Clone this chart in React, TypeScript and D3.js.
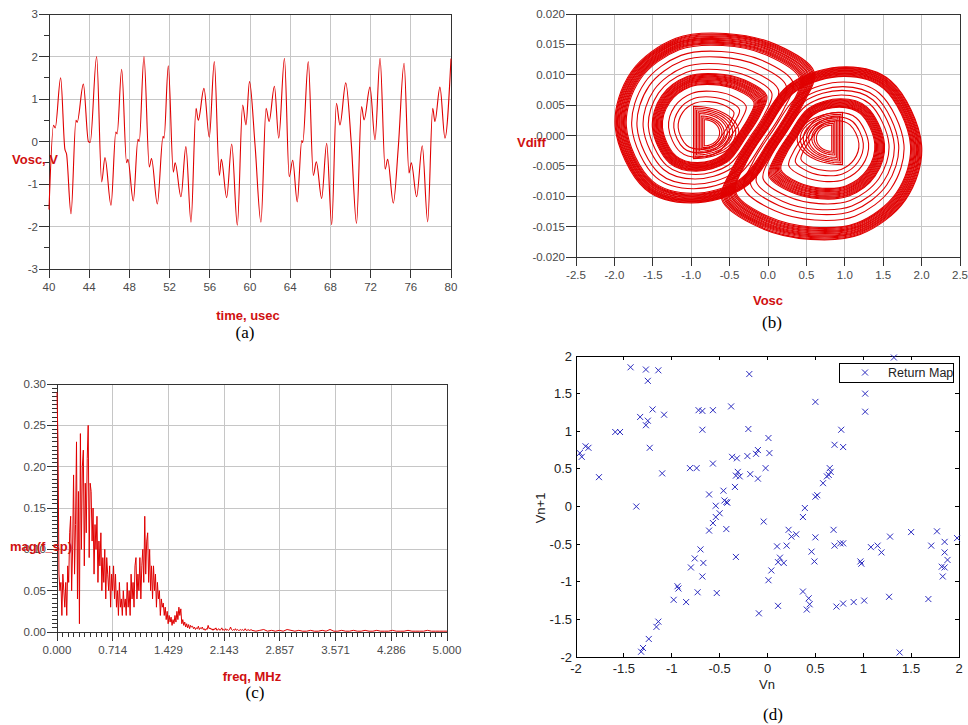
import React from "react";
import * as d3 from "d3";

// ---------- (a) Vosc vs time: turning points ----------
const timeUs = [40.0, 40.45, 40.62, 41.16, 41.58, 41.75, 42.19, 42.68, 42.8, 43.42, 43.92, 44.1, 44.74, 45.24, 45.57, 46.17, 46.65, 46.78, 47.23, 47.72, 47.85, 48.39, 48.85, 48.98, 49.45, 49.98, 50.2, 50.78, 51.35, 51.45, 51.87, 52.37, 52.55, 53.13, 53.62, 54.13, 54.63, 54.85, 55.42, 55.95, 56.45, 56.95, 57.15, 57.68, 58.18, 58.74, 59.27, 59.6, 59.95, 60.5, 61.09, 61.6, 61.9, 62.43, 62.86, 63.43, 63.9, 64.25, 64.7, 65.15, 65.25, 65.8, 66.3, 66.6, 67.13, 67.63, 68.13, 68.6, 68.95, 69.53, 70.08, 70.6, 71.1, 71.35, 71.94, 72.44, 72.94, 73.45, 73.7, 74.26, 74.76, 75.33, 75.82, 76.05, 76.58, 77.14, 77.68, 78.18, 78.4, 78.9, 79.4, 80.0];
const voscV = [-1.6, 0.38, 0.32, 1.5, -0.18, -0.3, -1.7, 0.5, 0.45, 1.35, 0.0, -0.02, 2.0, -0.95, -0.38, -1.5, 0.22, 0.18, 1.7, -0.5, -0.42, -1.4, 0.05, 0.0, 2.0, -0.6, -0.4, -1.47, 0.12, 0.08, 1.78, -0.72, -0.5, -1.3, -0.12, -1.9, 0.78, 0.5, 1.25, 0.1, 1.88, -0.8, -0.42, -1.32, -0.06, -1.97, 0.86, 0.39, 1.41, -0.08, -1.9, 0.78, 0.47, 1.3, 0.08, 1.96, -0.83, -0.44, -1.42, 0.02, -0.02, 1.88, -0.8, -0.48, -1.34, -0.04, -1.96, 0.9, 0.39, 1.38, -0.05, -1.93, 0.82, 0.51, 1.28, 0.04, 1.96, -0.65, -0.42, -1.45, -0.12, 1.84, -0.74, -0.5, -1.3, -0.1, -1.89, 0.78, 0.47, 1.28, 0.08, 1.95];
const timeTicks = [40, 44, 48, 52, 56, 60, 64, 68, 72, 76, 80];
const voltTicks = [-3, -2, -1, 0, 1, 2, 3];
const voltMinor = [-2.5, -1.5, -0.5, 0.5, 1.5, 2.5];

// ---------- (b) Vdiff vs Vosc ----------
// outermost loop of each scroll, read off the picture, and the loop eye
const leftOutline = [
  [-1.99, 0.0015], [-1.78, 0.0105], [-1.2, 0.016], [-0.55, 0.0168], [0.1, 0.015], [0.6, 0.0105],
  [0.45, 0.005], [0.15, -0.001], [-0.3, -0.0085], [-1.0, -0.0111], [-1.6, -0.0088],
];
const leftEye = [-0.85, 0.0012];
const rightOutline = [
  [2.0, -0.0016], [1.79, -0.0106], [1.2, -0.0163], [0.55, -0.0171], [-0.1, -0.0152], [-0.6, -0.0106],
  [-0.45, -0.005], [-0.15, 0.001], [0.3, 0.0086], [1.02, 0.0113], [1.6, 0.009],
];
const rightEye = [0.85, -0.0012];
// size of every loop relative to the outermost one
const leftLoops = [
  1, 0.99, 0.982, 0.972, 0.963, 0.952, 0.944, 0.933, 0.924, 0.913, 0.903, 0.894, 0.884, 0.872,
  0.81, 0.75, 0.68, 0.62,
  0.575, 0.566, 0.556, 0.547, 0.537, 0.528, 0.518, 0.509, 0.5, 0.49, 0.48, 0.47, 0.46,
  0.39, 0.33, 0.28,
];
const rightLoops = [
  1, 0.991, 0.98, 0.971, 0.962, 0.953, 0.942, 0.934, 0.923, 0.914, 0.904, 0.893, 0.883, 0.874,
  0.8, 0.74, 0.69, 0.63,
  0.58, 0.57, 0.56, 0.55, 0.54, 0.53, 0.52, 0.51, 0.5, 0.49, 0.48, 0.47,
  0.4, 0.34, 0.29,
];
// inner "D" loops [xFlat, xTip, yTop, yBottom]
const leftDs = [
  [-0.97, -0.38, 0.0048, -0.0038], [-0.95, -0.42, 0.0045, -0.0035], [-0.93, -0.46, 0.0042, -0.0032],
  [-0.91, -0.5, 0.0039, -0.0029], [-0.89, -0.53, 0.0036, -0.0026], [-0.87, -0.57, 0.0032, -0.0023],
  [-0.85, -0.6, 0.0029, -0.002], [-0.83, -0.63, 0.0026, -0.0017],
];
const rightDs = [
  [0.97, 0.38, 0.0038, -0.0048], [0.95, 0.42, 0.0035, -0.0045], [0.93, 0.46, 0.0032, -0.0042],
  [0.91, 0.5, 0.0029, -0.0039], [0.89, 0.53, 0.0026, -0.0036], [0.87, 0.57, 0.0023, -0.0032],
  [0.85, 0.6, 0.002, -0.0029], [0.83, 0.63, 0.0017, -0.0026],
];
const voscTicks = [-2.5, -2.0, -1.5, -1.0, -0.5, 0.0, 0.5, 1.0, 1.5, 2.0, 2.5];
const vdiffTicks = [-0.02, -0.015, -0.01, -0.005, 0, 0.005, 0.01, 0.015, 0.02];

// ---------- (c) spectrum magnitude ----------
const specStep = 0.0125; // MHz per bin up to 2.5 MHz
const specLow = [
  0.29, 0.23, 0.07, 0.05, 0.06, 0.02, 0.07, 0.05, 0.03, 0.06,
  0.02, 0.08, 0.06, 0.12, 0.14, 0.05, 0.10, 0.19, 0.07, 0.13,
  0.23, 0.04, 0.17, 0.01, 0.24, 0.10, 0.20, 0.22, 0.08, 0.18,
  0.12, 0.21, 0.25, 0.09, 0.18, 0.17, 0.11, 0.15, 0.07, 0.13,
  0.10, 0.14, 0.06, 0.11, 0.08, 0.12, 0.05, 0.09, 0.06, 0.10,
  0.04, 0.09, 0.07, 0.05, 0.08, 0.03, 0.07, 0.05, 0.08, 0.04,
  0.07, 0.03, 0.05, 0.02, 0.06, 0.03, 0.04, 0.02, 0.05, 0.03,
  0.04, 0.02, 0.06, 0.03, 0.05, 0.02, 0.07, 0.04, 0.06, 0.03,
  0.08, 0.09, 0.04, 0.07, 0.05, 0.09, 0.04, 0.08, 0.10, 0.06,
  0.14, 0.07, 0.11, 0.12, 0.06, 0.10, 0.05, 0.08, 0.04, 0.08,
  0.05, 0.07, 0.03, 0.06, 0.04, 0.05, 0.02, 0.04, 0.03, 0.035,
  0.02, 0.03, 0.015, 0.025, 0.01, 0.02, 0.012, 0.018, 0.008, 0.015,
  0.01, 0.02, 0.012, 0.025, 0.015, 0.03, 0.02, 0.028, 0.01, 0.015,
  0.008, 0.012, 0.006, 0.01, 0.005, 0.009, 0.004, 0.008, 0.006, 0.007,
  0.004, 0.006, 0.003, 0.005, 0.004, 0.007, 0.003, 0.005, 0.004, 0.006,
  0.003, 0.004, 0.002, 0.004, 0.003, 0.008, 0.004, 0.005, 0.003, 0.004,
  0.002, 0.004, 0.003, 0.005, 0.002, 0.003, 0.004, 0.002, 0.003, 0.005,
  0.002, 0.003, 0.002, 0.004, 0.002, 0.003, 0.002, 0.003, 0.006, 0.003,
  0.002, 0.003, 0.002, 0.004, 0.002, 0.003, 0.002, 0.002, 0.003, 0.002,
  0.003, 0.002, 0.002, 0.004, 0.002, 0.002, 0.003, 0.002, 0.002, 0.003,
];
const tailStep = 0.05; // MHz per point from 2.5 to 5.0
const specTail = [
  0.002, 0.001, 0.002, 0.003, 0.001, 0.002, 0.001, 0.002, 0.001, 0.003,
  0.002, 0.001, 0.002, 0.001, 0.001, 0.002, 0.001, 0.001, 0.002, 0.001,
  0.003, 0.001, 0.001, 0.002, 0.001, 0.001, 0.002, 0.001, 0.001, 0.002,
  0.001, 0.001, 0.002, 0.001, 0.001, 0.001, 0.002, 0.001, 0.001, 0.001,
  0.002, 0.001, 0.001, 0.001, 0.001, 0.002, 0.001, 0.001, 0.001, 0.001, 0.001,
];
const freqTicks = [0, 5 / 7, 10 / 7, 15 / 7, 20 / 7, 25 / 7, 30 / 7, 5];
const magTicks = [0, 0.05, 0.1, 0.15, 0.2, 0.25, 0.3];

// ---------- (d) return map ----------
const vn = [
  -1.43, -1.27, -1.14, -1.25, -1.2, -1.33, -1.25, -1.27, -1.08, -1.59, -1.54, -1.9, -1.87, -1.94, -1.96, -1.76, -1.23, -1.1, -1.37,
  -0.72, -0.68, -0.57, -0.68, -0.81, -0.74, -0.57, -0.61, -0.46, -0.54, -0.43, -0.5, -0.54, -0.57, -0.61, -0.43,
  -0.7, -0.76, -0.67, -0.8, -0.68, -0.93, -0.94, -0.98, -0.85, -0.73, -0.53, -1.14, -1.16, -1.24, -1.3, -1.32,
  -0.19, -0.38, 0.5, 1.02, 1.02, 1.32, -0.2, 0.01, -0.37, -0.32, -0.21, -0.12, -0.1, 0.02, -0.02, -0.31, -0.29, -0.33,
  -0.18, -0.1, -0.34, -0.45, -0.42, -0.04, 0.77, 0.7, 0.79, 0.65, 0.66, 0.64, 0.62, 0.58, 0.5, 0.52, 0.39, 0.37,
  0.22, 0.25, 0.3, 0.5, 0.69, 1.28, 1.5, 1.77, 1.98,
  0.1, 0.2, 0.46, 0.49, 0.13, 0.11, 0.17, 0.04, 0.01, -0.33, -0.09, 0.11, 0.37, 0.43, 0.44, 0.41, 0.7, 0.76, 0.79,
  0.72, 0.79, 0.9, 1.01, 0.97, 0.98, 1.08, 1.15, 1.19, 1.27, 1.38, 1.71, 1.85, 1.85, 1.88, 1.82, 1.85, 1.83, 1.68,
];
const vnNext = [
  1.85, 1.82, 1.81, 1.67, 1.29, 1.19, 1.14, 1.08, 1.22, 0.99, 0.99, 0.8, 0.78, 0.66, 0.71, 0.39, 0.78, 0.44, 0.0,
  1.28, 1.27, 1.28, 1.02, 0.51, 0.51, 0.57, 0.16, 0.21, 0.01, 0.06, -0.09, -0.14, -0.22, -0.32, -0.3,
  -0.57, -0.69, -0.75, -0.81, -0.93, -1.09, -1.06, -1.24, -1.27, -1.14, -1.15, -1.53, -1.6, -1.76, -1.88, -1.93,
  1.76, 1.33, 1.39, 1.5, 1.26, 1.98, 1.03, 0.91, 0.66, 0.64, 0.67, 0.7, 0.75, 0.71, 0.51, 0.46, 0.4, 0.41,
  0.43, 0.37, 0.26, 0.08, 0.05, -0.2, 1.02, 0.82, 0.79, 0.51, 0.46, 0.42, 0.4, 0.31, 0.13, 0.15, -0.02, -0.14,
  -0.31, -0.4, -0.37, -0.41, -0.31, -0.4, -0.34, -0.33, -0.42,
  -0.53, -0.52, -0.6, -0.73, -0.68, -0.74, -0.75, -0.85, -0.98, -0.67, -1.42, -1.32, -1.13, -1.22, -1.3, -1.37, -0.52, -0.49, -0.49,
  -1.33, -1.29, -1.27, -1.25, -0.73, -0.76, -0.54, -0.52, -0.61, -1.2, -1.94, -0.52, -0.47, -0.61, -0.71, -0.8, -0.81, -0.93, -1.23,
];
const mapTicks = [-2, -1.5, -1, -0.5, 0, 0.5, 1, 1.5, 2];

const sans = "'Liberation Sans', Arial, sans-serif";
const serif = "'Liberation Serif', 'Times New Roman', serif";
const red = "#e00000";
const labelRed = "#d01010";

function AdsFrame({xs, ys, xTicks, yTicks, xMinor = [], yMinor = [], xFmt, yFmt}: any) {
  const [l, r] = xs.range();
  const [b, t] = ys.range();
  return (
    <g>
      <g stroke="#c6c6c6" shapeRendering="crispEdges">
        {xTicks.map((v: number, i: number) => <line key={"gx" + i} x1={xs(v)} x2={xs(v)} y1={t} y2={b}/>)}
        {yTicks.map((v: number, i: number) => <line key={"gy" + i} x1={l} x2={r} y1={ys(v)} y2={ys(v)}/>)}
      </g>
      <g stroke="#333" shapeRendering="crispEdges">
        <rect x={l} y={t} width={r - l} height={b - t} fill="none"/>
        {xTicks.map((v: number, i: number) => <line key={"tx" + i} x1={xs(v)} x2={xs(v)} y1={b} y2={b + 9}/>)}
        {xMinor.map((v: number, i: number) => <line key={"mx" + i} x1={xs(v)} x2={xs(v)} y1={b} y2={b + 5}/>)}
        {yTicks.map((v: number, i: number) => <line key={"ty" + i} x1={l - 10} x2={l} y1={ys(v)} y2={ys(v)}/>)}
        {yMinor.map((v: number, i: number) => <line key={"my" + i} x1={l - 5} x2={l} y1={ys(v)} y2={ys(v)}/>)}
      </g>
      <g fontFamily={sans} fontSize={11.5} fill="#4a4a4a">
        {xTicks.map((v: number, i: number) => (
          <text key={"lx" + i} x={xs(v)} y={b + 22} textAnchor="middle">{xFmt(v)}</text>
        ))}
        {yTicks.map((v: number, i: number) => (
          <text key={"ly" + i} x={l - 11} y={ys(v)} dy="0.35em" textAnchor="end">{yFmt(v)}</text>
        ))}
      </g>
    </g>
  );
}

function PanelA() {
  const xs = d3.scaleLinear().domain([40, 80]).range([49, 451]);
  const ys = d3.scaleLinear().domain([-3, 3]).range([269, 14]);
  const line = d3.line<number>().x((d, i) => xs(timeUs[i])).y(d => ys(d)).curve(d3.curveMonotoneX);
  return (
    <g>
      <AdsFrame xs={xs} ys={ys} xTicks={timeTicks} yTicks={voltTicks} yMinor={voltMinor}
        xFmt={(v: number) => String(v)} yFmt={(v: number) => String(v)}/>
      <path d={line(voscV) || ""} fill="none" stroke={red} strokeWidth={1.1}/>
      <g fontFamily={sans} fontWeight="bold" fontSize={13} fill={labelRed}>
        <text x={12} y={164}>Vosc, V</text>
        <text x={248} y={320} textAnchor="middle">time, usec</text>
      </g>
      <text x={245} y={338} fontFamily={serif} fontSize={17} textAnchor="middle">(a)</text>
    </g>
  );
}

function PanelB() {
  const xs = d3.scaleLinear().domain([-2.5, 2.5]).range([576, 960]);
  const ys = d3.scaleLinear().domain([-0.02, 0.02]).range([257, 14]);
  const loop = d3.line().curve(d3.curveCatmullRomClosed.alpha(0.5));
  const scaled = (outline: number[][], eye: number[], s: number) =>
    loop(outline.map(([x, y]) => [xs(eye[0] + s * (x - eye[0])), ys(eye[1] + s * (y - eye[1]))] as [number, number])) || "";
  const dLoop = (r: number[]) => {
    const [xF, xT, yT, yB] = r;
    const cy = (yT + yB) / 2, ry = (yT - yB) / 2;
    const pts = d3.range(0, 37).map(k => {
      const a = -Math.PI / 2 + (k / 36) * Math.PI;
      return [xs(xF + (xT - xF) * Math.cos(a)), ys(cy - ry * Math.sin(a))] as [number, number];
    });
    return d3.line().curve(d3.curveLinearClosed)(pts) || "";
  };
  return (
    <g>
      <AdsFrame xs={xs} ys={ys} xTicks={voscTicks} yTicks={vdiffTicks}
        xFmt={(v: number) => v.toFixed(1)} yFmt={(v: number) => v.toFixed(3)}/>
      <g fill="none" stroke={red} strokeWidth={1.1}>
        {leftLoops.map((s, i) => <path key={"l" + i} d={scaled(leftOutline, leftEye, s)}/>)}
        {rightLoops.map((s, i) => <path key={"r" + i} d={scaled(rightOutline, rightEye, s)}/>)}
        {leftDs.map((r, i) => <path key={"ld" + i} d={dLoop(r)}/>)}
        {rightDs.map((r, i) => <path key={"rd" + i} d={dLoop(r)}/>)}
      </g>
      <g fontFamily={sans} fontWeight="bold" fontSize={13} fill={labelRed}>
        <text x={517} y={147}>Vdiff</text>
        <text x={768} y={305} textAnchor="middle">Vosc</text>
      </g>
      <text x={772} y={328} fontFamily={serif} fontSize={17} textAnchor="middle">(b)</text>
    </g>
  );
}

function PanelC() {
  const xs = d3.scaleLinear().domain([0, 5]).range([57, 447]);
  const ys = d3.scaleLinear().domain([0, 0.3]).range([632, 384]);
  const pts: [number, number][] = [
    ...specLow.map((m, i) => [i * specStep, m] as [number, number]),
    ...specTail.map((m, i) => [2.5 + i * tailStep, m] as [number, number]),
  ];
  const line = d3.line<[number, number]>().x(d => xs(d[0])).y(d => ys(d[1]));
  const xMinor = d3.range(0, 71).filter(k => k % 10 !== 0).map(k => k / 14);
  const yMinor = d3.range(0, 61).filter(k => k % 10 !== 0).map(k => k / 200);
  return (
    <g>
      <AdsFrame xs={xs} ys={ys} xTicks={freqTicks} yTicks={magTicks} xMinor={xMinor} yMinor={yMinor}
        xFmt={(v: number) => v.toFixed(3)} yFmt={(v: number) => v.toFixed(2)}/>
      <path d={line(pts) || ""} fill="none" stroke={red} strokeWidth={1}/>
      <g fontFamily={sans} fontWeight="bold" fontSize={13} fill={labelRed}>
        <text x={10} y={551}>mag(f_sp)</text>
        <text x={252} y={681} textAnchor="middle">freq, MHz</text>
      </g>
      <text x={255} y={698} fontFamily={serif} fontSize={17} textAnchor="middle">(c)</text>
    </g>
  );
}

function PanelD() {
  const xs = d3.scaleLinear().domain([-2, 2]).range([576, 959]);
  const ys = d3.scaleLinear().domain([-2, 2]).range([657, 356]);
  const cross = (x: number, y: number, s = 3) =>
    `M${x - s},${y - s}L${x + s},${y + s}M${x - s},${y + s}L${x + s},${y - s}`;
  const blue = "#2c2cc0";
  return (
    <g>
      <g stroke="#000" shapeRendering="crispEdges" fill="none">
        <rect x={576} y={356} width={959 - 576} height={657 - 356}/>
        {mapTicks.map((v, i) => (
          <g key={"t" + i}>
            <line x1={xs(v)} x2={xs(v)} y1={657} y2={653}/>
            <line x1={xs(v)} x2={xs(v)} y1={356} y2={360}/>
            <line x1={576} x2={580} y1={ys(v)} y2={ys(v)}/>
            <line x1={959} x2={955} y1={ys(v)} y2={ys(v)}/>
          </g>
        ))}
      </g>
      <g fontFamily={sans} fontSize={13} fill="#222">
        {mapTicks.map((v, i) => (
          <text key={"x" + i} x={xs(v)} y={673} textAnchor="middle">{String(v)}</text>
        ))}
        {mapTicks.map((v, i) => (
          <text key={"y" + i} x={572} y={ys(v)} dy="0.35em" textAnchor="end">{String(v)}</text>
        ))}
        <text x={767} y={689} textAnchor="middle">Vn</text>
        <text transform="translate(545,508) rotate(-90)" textAnchor="middle">Vn+1</text>
      </g>
      <path d={vn.map((v, i) => cross(xs(v), ys(vnNext[i]))).join("")} stroke={blue} strokeWidth={1} fill="none"/>
      <rect x={839} y={363} width={114} height={19} fill="#fff" stroke="#000" shapeRendering="crispEdges"/>
      <path d={cross(865, 372.5)} stroke={blue} strokeWidth={1}/>
      <text x={888} y={377} fontFamily={sans} fontSize={12.5} fill="#222">Return Map</text>
      <text x={773} y={720} fontFamily={serif} fontSize={17} textAnchor="middle">(d)</text>
    </g>
  );
}

export default function App() {
  return (
    <svg width={968} height={725} style={{position: "absolute", left: 0, top: 0, background: "#fff"}}>
      <rect width={968} height={725} fill="#fff"/>
      <PanelA/>
      <PanelB/>
      <PanelC/>
      <PanelD/>
    </svg>
  );
}
